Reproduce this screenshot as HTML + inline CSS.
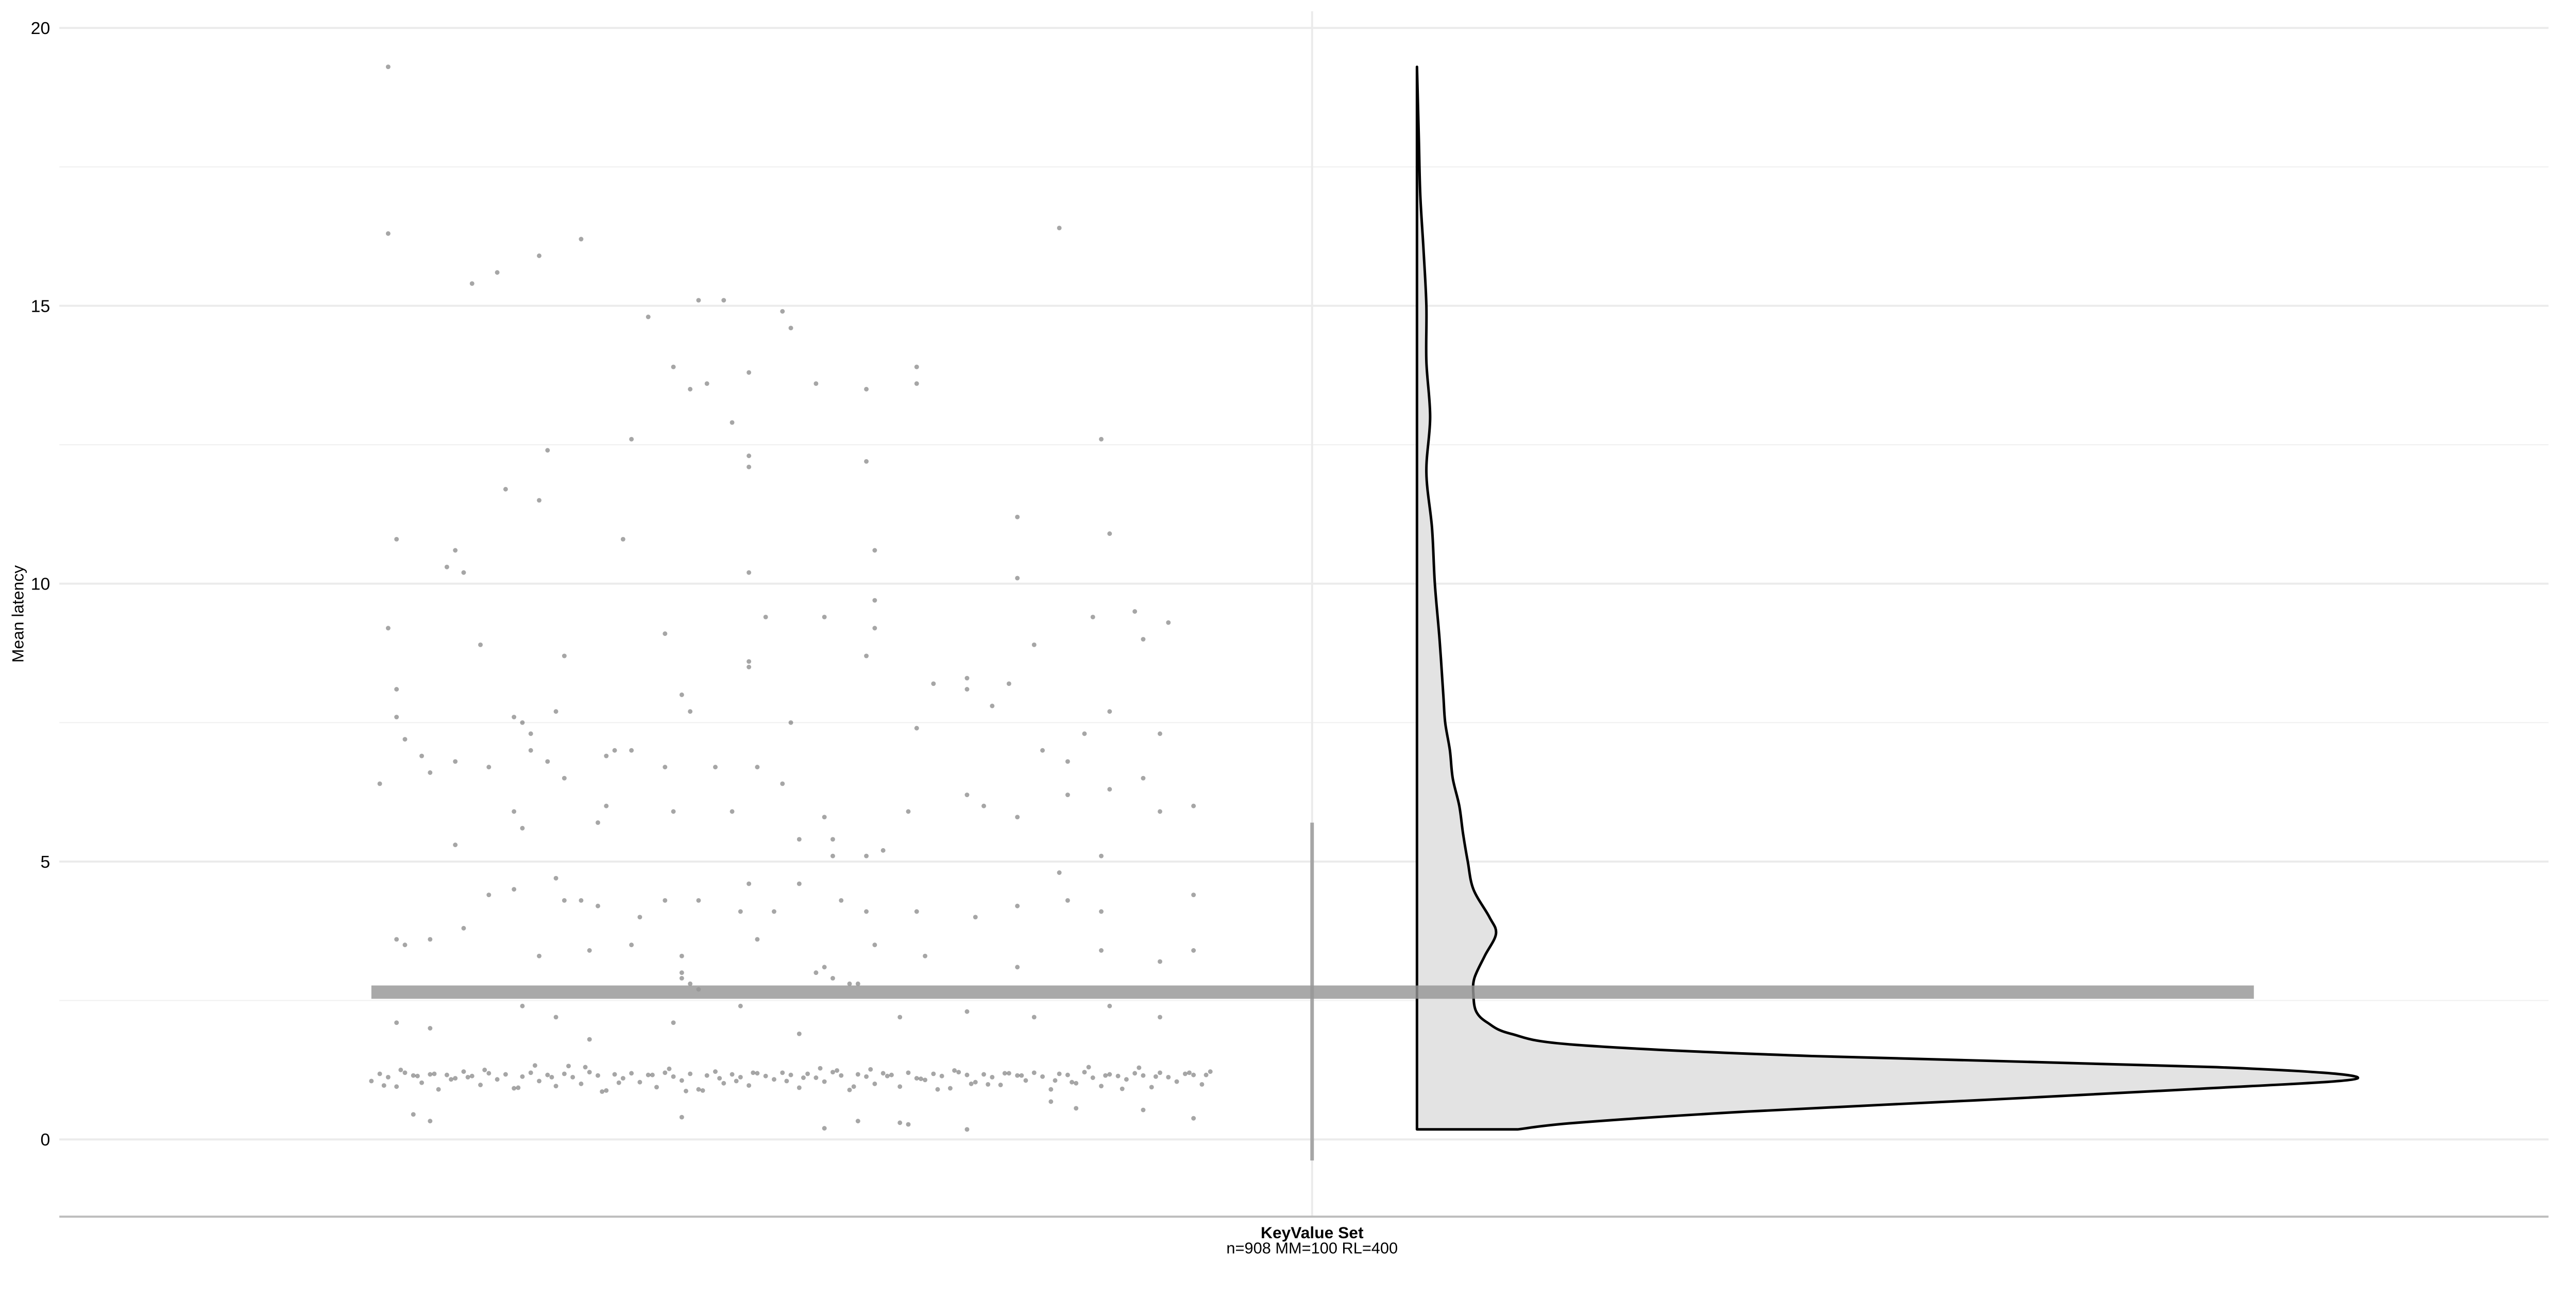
<!DOCTYPE html>
<html><head><meta charset="utf-8">
<style>
html,body{margin:0;padding:0;background:#fff;}
svg{display:block;font-family:"Liberation Sans",sans-serif;}
</style></head>
<body>
<svg id="chart" width="5039" height="2519" viewBox="0 0 5039 2519" xmlns="http://www.w3.org/2000/svg">
<g id="root" transform="scale(0.9929)">
<g id="grid"></g>
<g id="points"></g>
<g id="violin"></g>
<g id="summary"></g>
<g id="axes"></g>
</g>
</svg>
<script>
// ---- data ----
const yTicks = [0, 5, 10, 15, 20];
const yMinor = [2.5, 7.5, 12.5, 17.5];
const category = "KeyValue Set";
const categorySub = "n=908 MM=100 RL=400";
const meanValue = 2.65;
const rangeLow = -0.38;
const rangeHigh = 5.7;
// outlier points: jitter (0-100) and latency
const outJitter = [2,2,12,15,20,25,82,33,39,42,49,50,36,38,40,45,53,59,65,65,43,45,45,21,31,59,87,16,20,77,3,30,9,10,11,60,45,77,88,2,13,35,54,47,60,60,79,86,91,95,92,3,23,37,45,45,59,67,71,71,76,74,88,3,4,6,10,17,18,19,19,22,28,29,31,38,50,65,85,94,1,7,14,21,23,35,41,46,80,83,92,10,17,18,27,28,36,43,49,51,54,55,55,59,61,64,71,73,77,83,88,94,98,87,3,7,4,11,14,17,22,23,25,27,32,35,39,44,45,48,51,56,59,65,72,77,82,83,87,98,98,20,26,31,37,37,46,53,54,60,66,77,87,94,37,38,39,55,57,58,3,7,18,22,26,36,44,51,63,71,79,88,94,7,5,37,54,58,63,64,71,84,92,98,81];
const outValue = [19.3,16.3,15.4,15.6,15.9,16.2,16.4,14.8,15.1,15.1,14.9,14.6,13.9,13.5,13.6,13.8,13.6,13.5,13.6,13.9,12.9,12.3,12.1,12.4,12.6,12.2,12.6,11.7,11.5,11.2,10.8,10.8,10.3,10.6,10.2,10.6,10.2,10.1,10.9,9.2,8.9,9.1,9.4,9.4,9.7,9.2,8.9,9.4,9.5,9.3,9.0,8.1,8.7,8.0,8.6,8.5,8.7,8.2,8.3,8.1,8.2,7.8,7.7,7.6,7.2,6.9,6.8,7.6,7.5,7.3,7.0,7.7,6.9,7.0,7.0,7.7,7.5,7.4,7.3,7.3,6.4,6.6,6.7,6.8,6.5,6.7,6.7,6.7,7.0,6.8,6.5,5.3,5.9,5.6,5.7,6.0,5.9,5.9,6.4,5.4,5.8,5.4,5.1,5.1,5.2,5.9,6.2,6.0,5.8,6.2,6.3,5.9,6.0,5.1,3.6,3.6,3.5,3.8,4.4,4.5,4.7,4.3,4.3,4.2,4.0,4.3,4.3,4.1,4.6,4.1,4.6,4.3,4.1,4.1,4.0,4.2,4.8,4.3,4.1,4.4,3.4,3.3,3.4,3.5,3.3,3.0,3.6,3.0,3.1,3.5,3.3,3.1,3.4,3.2,2.9,2.8,2.7,2.9,2.8,2.8,2.1,2.0,2.4,2.2,1.8,2.1,2.4,1.9,2.2,2.3,2.2,2.4,2.2,0.33,0.45,0.4,0.2,0.33,0.3,0.27,0.18,0.56,0.53,0.38,0.68];
// dense band points
const bandJitter = [0,1,2,3,4,5,6,7,8,9,10,11,12,13,14,15,16,17,18,19,20,21,22,23,24,25,26,27,28,29,30,31,32,33,34,35,36,37,38,39,40,41,42,43,44,45,46,47,48,49,50,51,52,53,54,55,56,57,58,59,60,61,62,63,64,65,66,67,68,69,70,71,72,73,74,75,76,77,78,79,80,81,82,83,84,85,86,87,88,89,90,91,92,93,94,95,96,97,98,99,100,1.5,5.5,9.5,13.5,17.5,21.5,25.5,29.5,33.5,37.5,41.5,45.5,49.5,53.5,57.5,61.5,65.5,69.5,73.5,77.5,81.5,85.5,89.5,93.5,97.5,3.5,11.5,19.5,27.5,35.5,43.5,51.5,59.5,67.5,75.5,83.5,91.5,99.5,7.5,23.5,39.5,55.5,71.5,87.5];
const bandValue = [1.05,1.18,1.12,0.95,1.2,1.15,1.02,1.17,0.9,1.16,1.1,1.22,1.14,0.98,1.19,1.08,1.17,0.92,1.13,1.2,1.05,1.16,0.96,1.18,1.12,1.0,1.21,1.15,0.88,1.17,1.1,1.19,1.03,1.16,0.94,1.2,1.13,1.06,1.18,0.9,1.15,1.22,1.01,1.17,1.12,0.97,1.19,1.14,1.08,1.2,1.16,0.93,1.18,1.11,1.04,1.21,1.15,0.89,1.17,1.13,1.0,1.19,1.16,0.95,1.2,1.1,1.07,1.18,1.14,0.92,1.21,1.16,1.03,1.17,1.12,0.98,1.19,1.15,1.06,1.2,1.13,0.9,1.18,1.16,1.01,1.21,1.11,0.96,1.17,1.14,1.08,1.19,1.15,0.94,1.2,1.12,1.04,1.18,1.16,0.99,1.22,0.97,1.14,1.08,1.25,0.93,1.12,1.3,1.02,1.16,0.87,1.1,1.2,1.05,1.28,0.95,1.14,1.09,1.24,0.99,1.15,1.06,1.3,0.91,1.13,1.2,1.25,1.12,1.33,0.86,1.27,1.05,1.11,1.26,0.9,1.19,1.03,1.29,1.16,1.18,1.32,0.88,1.24,1.0,1.15];
// violin density profile (latency, relative width)
const densLat = [0.18,0.3,0.5,0.7,0.9,1.1,1.3,1.5,1.7,1.9,2.1,2.3,2.6,2.9,3.3,3.7,4.0,4.5,5.0,5.5,6.0,6.5,7.0,7.5,8.0,9.0,10,11,12,13,14,15,16,17,18,19.3];
const densVal = [0.107,0.17,0.35,0.59,0.82,1.0,0.85,0.42,0.17,0.1,0.075,0.063,0.06,0.061,0.072,0.084,0.077,0.06,0.054,0.049,0.045,0.038,0.035,0.03,0.028,0.024,0.019,0.016,0.01,0.014,0.01,0.01,0.007,0.0035,0.002,0.0];

// ---- scales ----
const NS = "http://www.w3.org/2000/svg";
const panel = {l:116, r:4982, t:22, b:2378};
const yDom = [-1.39, 20.3];
function y(v){ return panel.b - (v - yDom[0])/(yDom[1]-yDom[0])*(panel.b-panel.t); }
const catX = 2565;
const jitterLeft = 726, jitterRight = 2366;
function xj(j){ return jitterLeft + j/100*(jitterRight-jitterLeft); }
const violinBase = 2770, violinMaxW = 1839;
function xv(d){ return violinBase + d*violinMaxW; }
function mk(tag, parent, attrs){ const e=document.createElementNS(NS,tag); for(const k in attrs) e.setAttribute(k,attrs[k]); parent.appendChild(e); return e; }

// ---- grid ----
const grid = document.getElementById('grid');
yMinor.forEach(v=>{
  const l = mk('line', grid, {x1:panel.l, x2:panel.r, y1:y(v), y2:y(v), stroke:'#f0f0f0', 'stroke-width':2});
  
  
});
yTicks.forEach(v=>{
  const l = mk('line', grid, {x1:panel.l, x2:panel.r, y1:y(v), y2:y(v), stroke:'#ebebeb', 'stroke-width':4});
  
  
});
const vg = mk('line', grid, {x1:catX, x2:catX, y1:panel.t, y2:panel.b, stroke:'#ebebeb', 'stroke-width':4});



// ---- points ----
const pts = document.getElementById('points');
function dot(j,v){
  const c = mk('circle', pts, {cx:xj(j), cy:y(v), r:4.5, fill:'rgba(0,0,0,0.35)'});
  
  
}
outJitter.forEach((j,i)=>dot(j,outValue[i]));
bandJitter.forEach((j,i)=>dot(j,bandValue[i]));

// ---- violin ----
const vio = document.getElementById('violin');
const P = densLat.map((l,i)=>[xv(densVal[i]), y(l)]);
let d = `M${violinBase},${P[0][1]} L${P[0][0]},${P[0][1]}`;
for(let i=0;i<P.length-1;i++){
  const p0=P[Math.max(0,i-1)], p1=P[i], p2=P[i+1], p3=P[Math.min(P.length-1,i+2)];
  const c1=[p1[0]+(p2[0]-p0[0])/6, p1[1]+(p2[1]-p0[1])/6];
  const c2=[p2[0]-(p3[0]-p1[0])/6, p2[1]-(p3[1]-p1[1])/6];
  d += ` C${c1[0]},${c1[1]} ${c2[0]},${c2[1]} ${p2[0]},${p2[1]}`;
}
d += ` L${violinBase},${P[P.length-1][1]} Z`;
const vp = mk('path', vio, {d:d, fill:'#e3e3e3', stroke:'#000', 'stroke-width':5, 'stroke-linejoin':'round'});



// ---- summary marks ----
const sm = document.getElementById('summary');
const rl = mk('line', sm, {x1:catX, x2:catX, y1:y(rangeHigh), y2:y(rangeLow), stroke:'#a6a6a6', 'stroke-width':7});


const mb = mk('rect', sm, {x:726, y:y(meanValue)-13, width:4406-726, height:26, fill:'rgba(150,150,150,0.82)'});



// ---- axes ----
const ax = document.getElementById('axes');
const xl = mk('line', ax, {x1:panel.l, x2:panel.r, y1:panel.b, y2:panel.b, stroke:'#bdbdbd', 'stroke-width':4});


yTicks.forEach(v=>{
  const t = mk('text', ax, {x:98, y:y(v)+12, 'text-anchor':'end', 'font-size':34, fill:'#000'});
  t.textContent = v;
  
  
});
const yt = mk('text', ax, {x:0, y:0, transform:`translate(46,1200) rotate(-90)`, 'text-anchor':'middle', 'font-size':32, fill:'#000'});
yt.textContent = 'Mean latency';


const c1 = mk('text', ax, {x:catX, y:2420, 'text-anchor':'middle', 'font-size':32, 'font-weight':'bold', fill:'#000'});
c1.textContent = category;


const c2 = mk('text', ax, {x:catX, y:2450, 'text-anchor':'middle', 'font-size':31, fill:'#000'});
c2.textContent = categorySub;


</script>
</body></html>
